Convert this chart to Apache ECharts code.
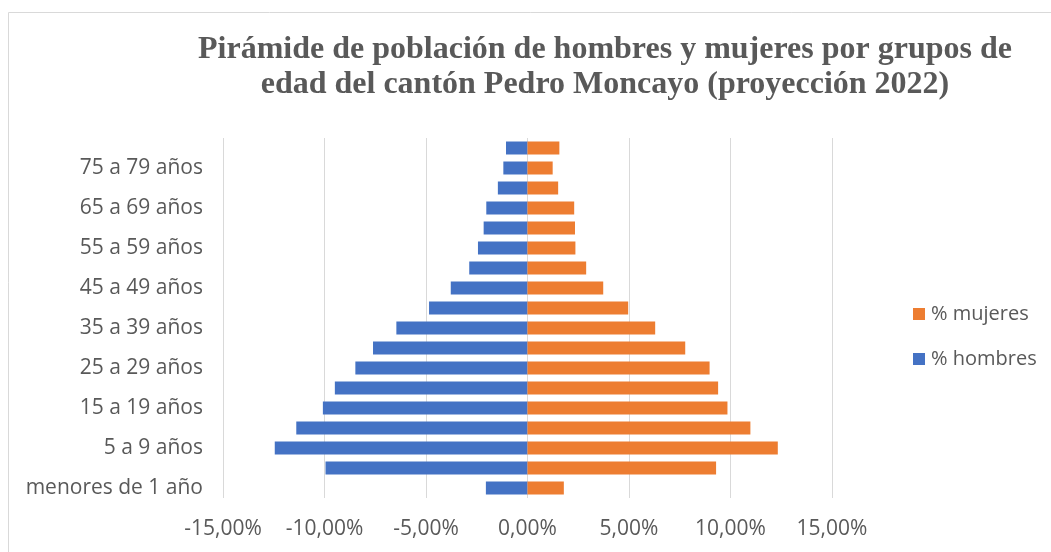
<!DOCTYPE html>
<html>
<head>
<meta charset="utf-8">
<script src="https://cdn.jsdelivr.net/npm/echarts@6/dist/echarts.min.js"></script>
<style>
  html, body { margin: 0; padding: 0; background: #fff; }
  #chart { width: 1051px; height: 552px; }
</style>
</head>
<body>
<div id="chart"></div>
<script>
// age groups, bottom to top
const categories = [
  'menores de 1 año', '1 a 4 años', '5 a 9 años', '10 a 14 años', '15 a 19 años',
  '20 a 24 años', '25 a 29 años', '30 a 34 años', '35 a 39 años', '40 a 44 años',
  '45 a 49 años', '50 a 54 años', '55 a 59 años', '60 a 64 años', '65 a 69 años',
  '70 a 74 años', '75 a 79 años', '80 años y más'
]
// percentages (men drawn to the left as negatives)
const hombres = [-2.05, -9.95, -12.45, -11.39, -10.08, -9.49, -8.48, -7.61, -6.46,
  -4.85, -3.78, -2.87, -2.44, -2.16, -2.03, -1.46, -1.19, -1.06]
const mujeres = [1.79, 9.29, 12.33, 10.98, 9.85, 9.39, 8.97, 7.77, 6.29,
  4.96, 3.73, 2.89, 2.36, 2.34, 2.30, 1.51, 1.24, 1.57]
const xTicks = { min: -15, max: 15, step: 5 }

const textColor = '#595959'
const labelFont = 'Open Sans'

let myChart = echarts.init(document.getElementById('chart'))
myChart.setOption({
  animation: false,
  title: {
    text: 'Pirámide de población de hombres y mujeres por grupos de\nedad del cantón Pedro Moncayo (proyección 2022)',
    left: 600,
    top: 27,
    textAlign: 'center',
    textStyle: {
      fontFamily: 'Liberation Serif',
      fontWeight: 'bold',
      fontSize: 32,
      lineHeight: 35,
      color: textColor,
    },
  },
  graphic: [
    {
      type: 'rect',
      shape: { x: 8.5, y: 12.5, width: 1100, height: 600 },
      style: { fill: 'none', stroke: '#d9d9d9', lineWidth: 1 },
      silent: true,
    },
  ],
  legend: {
    orient: 'vertical',
    left: 908,
    top: 299,
    itemGap: 25,
    itemWidth: 12,
    itemHeight: 12,
    icon: 'rect',
    data: ['% mujeres', '% hombres'],
    textStyle: { fontFamily: labelFont, fontSize: 20, color: textColor, padding: [0, 0, 0, 1] },
  },
  grid: {
    left: 223,
    right: 219,
    top: 138,
    bottom: 54,
  },
  xAxis: {
    type: 'value',
    min: xTicks.min,
    max: xTicks.max,
    interval: xTicks.step,
    axisLine: { show: false },
    axisTick: { show: false },
    splitLine: { lineStyle: { color: '#d9d9d9', width: 1 } },
    axisLabel: {
      margin: 21,
      fontFamily: labelFont,
      fontSize: 21,
      color: textColor,
      formatter: (v) => v.toFixed(2).replace('.', ',') + '%',
    },
  },
  yAxis: {
    type: 'category',
    data: categories,
    axisLine: { show: false },
    axisTick: { show: false },
    axisLabel: {
      interval: 1,
      margin: 20,
      fontFamily: labelFont,
      fontSize: 21,
      color: textColor,
      padding: [3, 0, 0, 0],
    },
  },
  series: [
    {
      name: '% hombres',
      type: 'bar',
      stack: 'total',
      data: hombres,
      barWidth: 13,
      itemStyle: { color: '#4472c4' },
    },
    {
      name: '% mujeres',
      type: 'bar',
      stack: 'total',
      data: mujeres,
      barWidth: 13,
      itemStyle: { color: '#ed7d31' },
    },
  ],
})
</script>
</body>
</html>
